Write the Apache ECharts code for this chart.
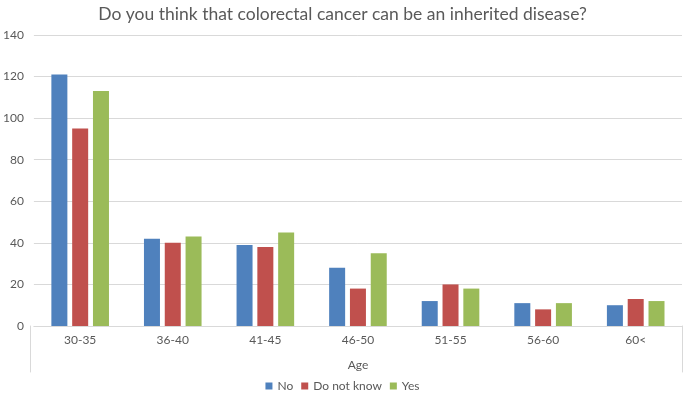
<!DOCTYPE html>
<html>
<head>
<meta charset="utf-8">
<script src="https://cdn.jsdelivr.net/npm/echarts@6/dist/echarts.min.js"></script>
<style>
  html, body { margin: 0; padding: 0; background: #fff; }
  #chart { width: 685px; height: 398px; }
</style>
</head>
<body>
<div id="chart"></div>
<script>
var ageGroups = ['30-35', '36-40', '41-45', '46-50', '51-55', '56-60', '60<'];
var noValues = [121, 42, 39, 28, 12, 11, 10];
var dontKnowValues = [95, 40, 38, 18, 20, 8, 13];
var yesValues = [113, 43, 45, 35, 18, 11, 12];
var yTicks = { min: 0, max: 140, interval: 20 };

var font = 'Lato, "Open Sans", sans-serif';
var grey = '#595959';

function barSeries(name, data, color) {
  return {
    name: name,
    type: 'bar',
    data: data,
    barWidth: 16,
    barGap: '30%',
    itemStyle: { color: color }
  };
}

var option = {
  animation: false,
  textStyle: { fontFamily: font },
  title: {
    text: 'Do you think that colorectal cancer can be an inherited disease?',
    left: 'center',
    top: 0,
    textStyle: { color: grey, fontSize: 17.5, fontWeight: 'normal', fontFamily: font }
  },
  legend: {
    bottom: 1,
    left: 'center',
    icon: 'rect',
    itemWidth: 7,
    itemHeight: 7,
    itemGap: 8,
    textStyle: { color: grey, fontSize: 12, fontFamily: font },
    data: ['No', 'Do not know', 'Yes']
  },
  grid: [
    { left: 30, right: 3, top: 35, bottom: 72 },
    { left: 30, right: 3, top: 326, bottom: 26 }
  ],
  xAxis: [
    {
      type: 'category',
      data: ageGroups,
      gridIndex: 0,
      name: 'Age',
      nameLocation: 'middle',
      nameGap: 33,
      nameTextStyle: { color: grey, fontSize: 12 },
      axisLine: { lineStyle: { color: '#d9d9d9' } },
      axisTick: { show: false },
      axisLabel: { color: grey, fontSize: 12, margin: 8 }
    },
    {
      type: 'category',
      data: ageGroups,
      gridIndex: 1,
      axisLine: { show: false },
      axisTick: { show: false },
      axisLabel: { show: false }
    }
  ],
  yAxis: [
    {
      type: 'value',
      gridIndex: 0,
      min: yTicks.min,
      max: yTicks.max,
      interval: yTicks.interval,
      axisLine: { show: false },
      axisTick: { show: false },
      axisLabel: { color: grey, fontSize: 12, margin: 10 },
      splitLine: { lineStyle: { color: '#d9d9d9' } }
    },
    {
      type: 'value', gridIndex: 1, position: 'left',
      axisLine: { show: true, lineStyle: { color: '#d9d9d9' } },
      axisTick: { show: false }, axisLabel: { show: false }, splitLine: { show: false }
    },
    {
      type: 'value', gridIndex: 1, position: 'right',
      axisLine: { show: true, lineStyle: { color: '#d9d9d9' } },
      axisTick: { show: false }, axisLabel: { show: false }, splitLine: { show: false }
    }
  ],
  series: [
    barSeries('No', noValues, '#4f81bd'),
    barSeries('Do not know', dontKnowValues, '#c0504d'),
    barSeries('Yes', yesValues, '#9bbb59')
  ]
};

var myChart = echarts.init(document.getElementById('chart'));
myChart.setOption(option, true);
</script>
</body>
</html>
